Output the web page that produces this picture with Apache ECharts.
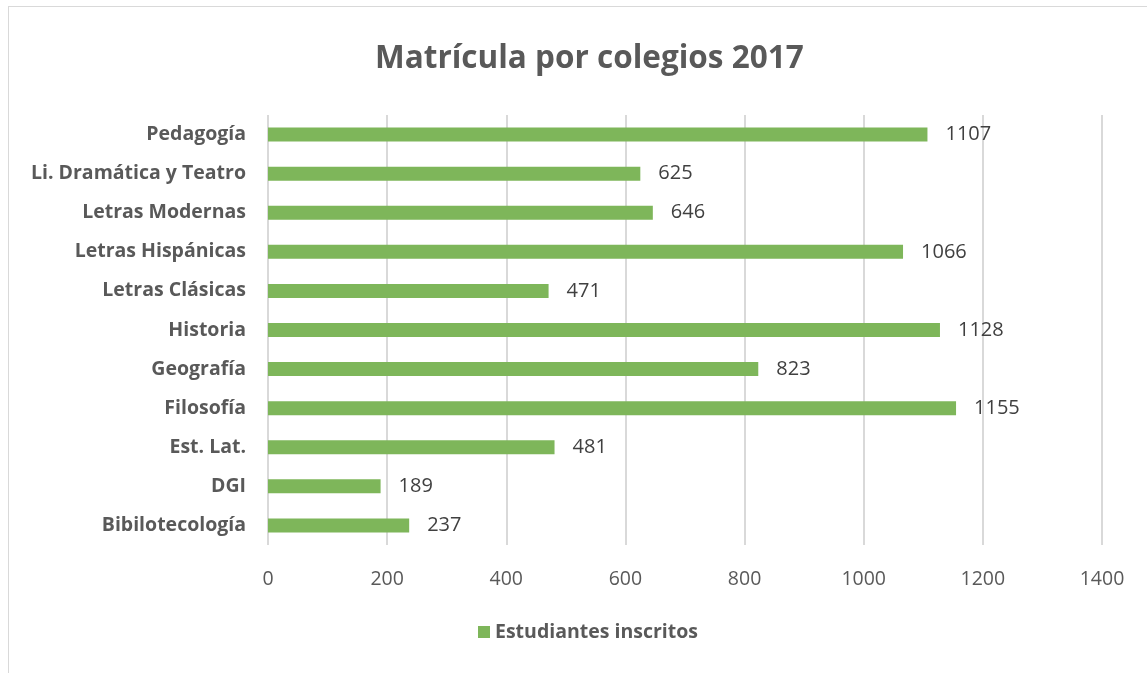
<!DOCTYPE html>
<html>
<head>
<meta charset="utf-8">
<script src="https://cdn.jsdelivr.net/npm/echarts@6/dist/echarts.min.js"></script>
<style>
  html, body { margin: 0; padding: 0; background: #fff; }
  #frame { position: absolute; left: 8px; top: 6px; width: 1160px; height: 700px; border: 1px solid #D9D9D9; box-sizing: border-box; }
  #chart { position: absolute; left: 0; top: 0; width: 1147px; height: 673px; }
</style>
</head>
<body>
<div id="frame"></div>
<div id="chart"></div>
<script>
// categories, bottom to top as in the picture
const categories = ['Bibilotecología', 'DGI', 'Est. Lat.', 'Filosofía', 'Geografía', 'Historia',
  'Letras Clásicas', 'Letras Hispánicas', 'Letras Modernas', 'Li. Dramática y Teatro', 'Pedagogía'];
const inscritos = [237, 189, 481, 1155, 823, 1128, 471, 1066, 646, 625, 1107];
const seriesName = 'Estudiantes inscritos';

const font = '"Open Sans", sans-serif';
const myChart = echarts.init(document.getElementById('chart'));
const option = {
  animation: false,
  title: {
    text: 'Matrícula por colegios 2017',
    left: 370,
    top: 38,
    textStyle: { color: '#595959', fontSize: 31.5, fontWeight: 'bold', fontFamily: font }
  },
  legend: {
    bottom: 26,
    left: 473,
    itemWidth: 12,
    itemHeight: 12,
    icon: 'rect',
    textStyle: { color: '#595959', fontSize: 19.5, fontWeight: 'bold', fontFamily: font },
    data: [seriesName]
  },
  grid: { left: 268, right: 45, top: 115, bottom: 128 },
  xAxis: {
    type: 'value',
    min: 0,
    max: 1400,
    interval: 200,
    axisLine: { show: false },
    axisTick: { show: false },
    axisLabel: { color: '#595959', fontSize: 19.5, fontFamily: font, margin: 24, formatter: (v) => String(v) },
    splitLine: { lineStyle: { color: '#D9D9D9', width: 2 } }
  },
  yAxis: {
    type: 'category',
    data: categories,
    axisLine: { show: false },
    axisTick: { show: false },
    axisLabel: { color: '#595959', fontSize: 19.5, fontWeight: 'bold', fontFamily: font, margin: 22 }
  },
  series: [{
    name: seriesName,
    type: 'bar',
    data: inscritos,
    barWidth: 14,
    itemStyle: { color: '#7EB65A' },
    label: {
      show: true,
      position: 'right',
      distance: 18,
      color: '#404040',
      fontSize: 20,
      fontFamily: font
    }
  }]
};
myChart.setOption(option);
</script>
</body>
</html>
